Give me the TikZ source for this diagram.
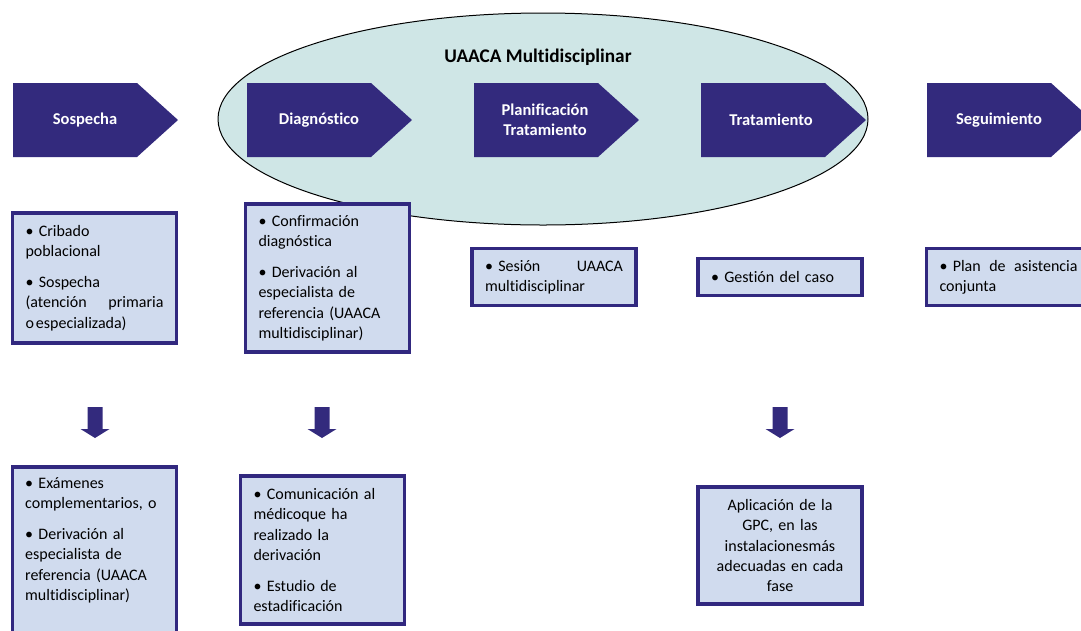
\documentclass[tikz,border=0pt]{standalone}
\usepackage{fontspec}
\setmainfont{Carlito}[Ligatures={NoCommon}]
\definecolor{stage}{HTML}{332A7D}
\definecolor{boxline}{HTML}{31287F}
\definecolor{boxfill}{HTML}{D0DBEE}
\definecolor{ovalfill}{HTML}{CFE6E6}
\tikzset{
  stagetext/.style={text=white, inner sep=0pt, align=center,
    font=\fontsize{16.5}{20}\bfseries\selectfont},
  infobox/.style={draw=boxline, fill=boxfill, line width=3.5pt,
    inner xsep=13pt, inner ysep=0pt, text width=138pt, align=left,
    font=\fontsize{16}{20.3}\selectfont},
  bodytext/.style={inner sep=0pt, text width=138pt, align=left,
    font=\fontsize{16}{20.3}\selectfont},
  chevron/.style={fill=stage},
  downarrow/.style={fill=stage},
}
\begin{document}
\begin{tikzpicture}[x=1pt,y=-1pt]
\useasboundingbox (0,0) rectangle (1081,630);
\clip (0,0) rectangle (1081,630);

% multidisciplinary unit
\draw[fill=ovalfill, line width=1pt] (543,119) ellipse [x radius=325, y radius=106];
\node[font=\fontsize{19.3}{22}\bfseries\selectfont] (title) at (538,57) {UAACA Multidisciplinar};

% process stages
\foreach \l in {13,247,474,701,927}
  \fill[chevron] (\l,83) -- ++(124,0) -- ++(41,37) -- ++(-41,37) -- ++(-124,0) -- cycle;
\node[stagetext] (s1) at (85,120) {Sospecha};
\node[stagetext] (s2) at (319,120) {Diagnóstico};
\node[stagetext] (s3) at (545,120) {Planificación\\Tratamiento};
\node[stagetext] (s4) at (771,120) {Tratamiento};
\node[stagetext] (s5) at (999,120) {Seguimiento};

% first row of activities
\node[infobox, minimum height=130pt] (b1) at (94.5,278)
  {• Cribado\\poblacional\\[10.7pt]• Sospecha\\(atención\hfill primaria\\o\kern2pt especializada)};
\node[infobox, minimum height=148pt] (b2) at (327.5,278)
  {• Confirmación\\diagnóstica\\[10.7pt]• Derivación al\\especialista de\\referencia (UAACA\\multidisciplinar)};
\node[infobox, minimum height=57pt] (b3) at (554,277)
  {• Sesión\hfill UAACA\\multidisciplinar};
\node[infobox, minimum height=37pt] (b4) at (780,277)
  {• Gestión del caso};
\node[infobox, minimum height=57pt] (b5) at (1008.5,277)
  {• Plan\hfill de\hfill asistencia\\conjunta};

% block arrows
\foreach \cx in {95,322,780}
  \fill[downarrow] (\cx-7.5,407) -- (\cx+7.5,407) -- (\cx+7.5,429) -- (\cx+14.5,429)
    -- (\cx,438) -- (\cx-14.5,429) -- (\cx-7.5,429) -- cycle;

% second row of activities
\node[infobox, minimum height=230pt, anchor=north] (b6) at (94.5,465) {};
\node[bodytext, anchor=north west] (b6text) at (25,477)
  {• Exámenes\\complementarios, o\\[10.7pt]• Derivación al\\especialista de\\referencia (UAACA\\multidisciplinar)};
\node[infobox, minimum height=148pt] (b7) at (322.5,550)
  {• Comunicación al\\médicoque ha\\realizado la\\derivación\\[10.7pt]• Estudio de\\estadificación};
\node[infobox, minimum height=117pt, align=center] (b8) at (780,545.5)
  {Aplicación de la\\GPC, en las\\instalacionesmás\\adecuadas en cada\\fase};
\end{tikzpicture}
\end{document}
